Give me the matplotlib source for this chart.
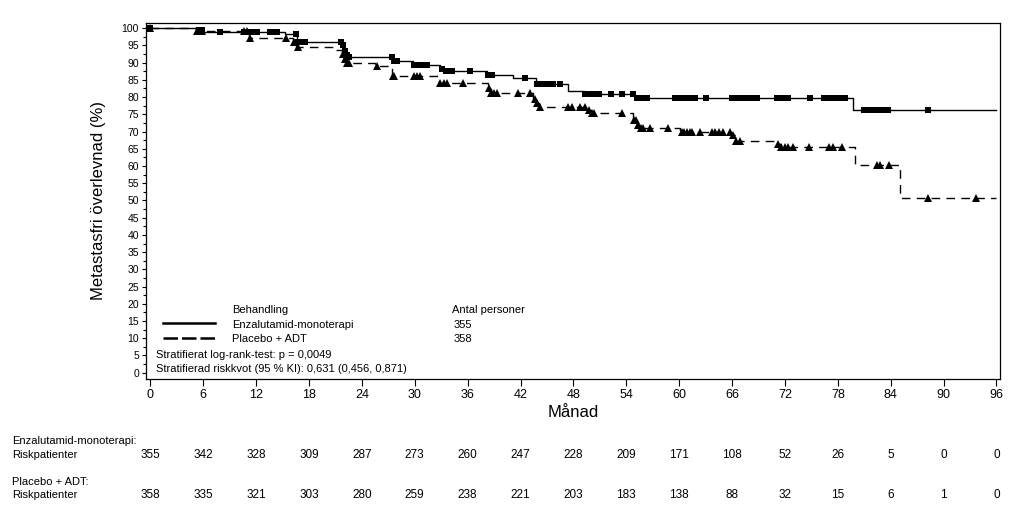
import matplotlib
matplotlib.use("Agg")
import matplotlib.pyplot as plt
import matplotlib.transforms as mtrans
import numpy as np

plt.rcParams['font.family'] = ['Liberation Sans', 'DejaVu Sans']

# Kaplan-Meier steps (month, survival % after the step)
enz_t = [0, 5.4, 6.0, 15.3, 16.6, 21.8, 22.0, 22.2, 22.4, 27.5, 29.8, 32.9, 33.5,
         38.2, 41.1, 43.8, 47.4, 49.2, 55.0, 79.7]
enz_s = [100, 99.4, 98.8, 98.3, 96.1, 95.0, 93.5, 92.3, 91.5, 90.4, 89.4, 88.1, 87.7,
         86.4, 85.5, 83.7, 81.9, 80.9, 79.7, 76.3]
plc_t = [0, 5.2, 11.2, 16.2, 16.5, 20.8, 21.8, 22.0, 22.3, 25.5, 27.4, 32.7, 38.3,
         38.6, 43.4, 43.8, 44.1, 49.6, 50.0, 54.8, 55.2, 55.6, 60.1, 65.9, 66.4,
         71.2, 71.6, 80.0, 85.0]
plc_s = [100, 99.3, 97.3, 96.0, 94.5, 93.7, 92.5, 91.2, 90.0, 89.0, 86.0, 84.0, 82.5,
         81.1, 79.5, 78.2, 77.2, 76.2, 75.3, 73.5, 72.0, 71.0, 70.0, 69.0, 67.4,
         66.3, 65.5, 60.3, 50.6]
t_end = 96

# censored observations (months)
enz_cens = [0, 5.5, 5.7, 5.9, 7.9, 10.6, 11.0, 11.4, 11.8, 12.1, 13.6, 14.0, 14.4,
            16.5, 16.8, 17.2, 17.6, 21.6, 21.9, 22.1, 22.3, 22.5, 27.4, 27.7, 28.0,
            29.9, 30.3, 30.7, 31.1, 31.4, 33.1, 33.6, 33.9, 34.2, 36.3, 38.3, 38.8,
            42.5, 43.9, 44.3, 45.0, 45.4, 45.7, 46.5, 49.3, 49.6, 49.9, 50.2, 50.9,
            52.3, 53.5, 54.8, 55.2, 55.6, 56.0, 56.4, 59.5, 60.2, 60.6, 61.0, 61.4,
            61.8, 63.0, 66.0, 66.4, 66.8, 67.2, 67.8, 68.3, 68.8, 71.1, 71.5, 71.9,
            72.3, 74.8, 76.4, 76.8, 77.2, 77.6, 78.0, 78.4, 78.8, 81.0, 81.4, 81.8,
            82.2, 82.6, 83.0, 83.4, 83.7, 88.2]
plc_cens = [0, 5.3, 5.6, 5.9, 10.6, 11.0, 11.3, 15.4, 16.3, 16.7, 21.9, 22.1, 22.3,
            22.5, 25.7, 27.5, 27.7, 29.9, 30.3, 30.6, 32.9, 33.3, 33.7, 35.5, 38.4,
            38.7, 39.0, 39.3, 41.7, 43.1, 43.6, 43.9, 44.2, 47.4, 47.8, 48.8, 49.3,
            49.8, 50.1, 50.3, 53.5, 54.9, 55.1, 55.3, 55.7, 55.9, 56.7, 58.7, 60.3,
            60.6, 60.9, 61.2, 61.5, 62.4, 63.7, 64.1, 64.5, 65.0, 65.8, 66.1, 66.5,
            66.9, 71.2, 71.6, 72.0, 72.4, 72.9, 74.7, 77.0, 77.4, 78.5, 82.4, 82.8,
            83.8, 88.2, 93.7]

months = list(range(0, 97, 6))
enz_risk = [355, 342, 328, 309, 287, 273, 260, 247, 228, 209, 171, 108, 52, 26, 5, 0, 0]
plc_risk = [358, 335, 321, 303, 280, 259, 238, 221, 203, 183, 138, 88, 32, 15, 6, 1, 0]


def surv_at(tt, ss, x):
    idx = np.searchsorted(tt, x, side='right') - 1
    return np.array(ss)[idx]


W, H = 1027, 520
fig = plt.figure(figsize=(W / 100, H / 100), dpi=100)
ax = fig.add_axes([146 / W, 1 - 379 / H, (1000 - 146) / W, (379 - 22.7) / H])

dash = (6.2, 4.5)
ax.step(enz_t + [t_end], enz_s + [enz_s[-1]], where='post', color='black', lw=1.0)
ax.step(plc_t + [t_end], plc_s + [plc_s[-1]], where='post', color='black', lw=1.0,
        dashes=dash)
ax.plot(enz_cens, surv_at(enz_t, enz_s, enz_cens), 's', color='black', ms=4.5, mew=0)
ax.plot(plc_cens, surv_at(plc_t, plc_s, plc_cens), '^', color='black', ms=5.4, mew=0)

ax.set_xlim(-0.49, 96.4)
ax.set_ylim(-1.83, 101.6)
ax.set_xticks(months)
ax.set_yticks(range(0, 101, 5))
ax.set_yticks(np.arange(2.5, 100, 5), minor=True)
ax.tick_params(axis='x', length=5, width=0.8, labelsize=9, pad=2)
ax.tick_params(axis='y', which='major', length=3, width=0.8, labelsize=7.5, pad=2)
ax.tick_params(axis='y', which='minor', length=2.5, width=0.8)
for sp in ax.spines.values():
    sp.set_linewidth(0.9)
ax.set_xlabel('Månad', fontsize=12, labelpad=3)
ax.set_ylabel('Metastasfri överlevnad (%)', fontsize=12, labelpad=11)


def ftext(x, y, s, **kw):
    fig.text(x / W, 1 - y / H, s, va='center', ha=kw.pop('ha', 'left'), **kw)


# legend block
ftext(232, 310, 'Behandling', fontsize=8)
ftext(232, 324.5, 'Enzalutamid-monoterapi', fontsize=8)
ftext(232, 338.5, 'Placebo + ADT', fontsize=8)
ftext(452, 310, 'Antal personer', fontsize=8)
ftext(454, 325, '355', fontsize=8)
ftext(454, 339, '358', fontsize=8)
ftext(155.7, 355, 'Stratifierat log-rank-test: p = 0,0049', fontsize=8)
ftext(155.7, 369.5, 'Stratifierad riskkvot (95 % KI): 0,631 (0,456, 0,871)', fontsize=8)
fig.add_artist(plt.Line2D([163 / W, 215 / W], [1 - 322.7 / H] * 2, color='black', lw=1.8))
fig.add_artist(plt.Line2D([163 / W, 215 / W], [1 - 337.7 / H] * 2, color='black', lw=1.8,
                          dashes=(5.8, 1.6)))

# numbers at risk
ftext(11.7, 441, 'Enzalutamid-monoterapi:', fontsize=8)
ftext(11.7, 455, 'Riskpatienter', fontsize=8)
ftext(11.7, 482, 'Placebo + ADT:', fontsize=8)
ftext(11.7, 494.5, 'Riskpatienter', fontsize=8)
trans = mtrans.blended_transform_factory(ax.transData, fig.transFigure)
for m, a, b in zip(months, enz_risk, plc_risk):
    ax.text(m, 1 - 455 / H, str(a), transform=trans, ha='center', va='center', fontsize=8.5)
    ax.text(m, 1 - 494.5 / H, str(b), transform=trans, ha='center', va='center', fontsize=8.5)

fig.savefig('out.png', dpi=100)
